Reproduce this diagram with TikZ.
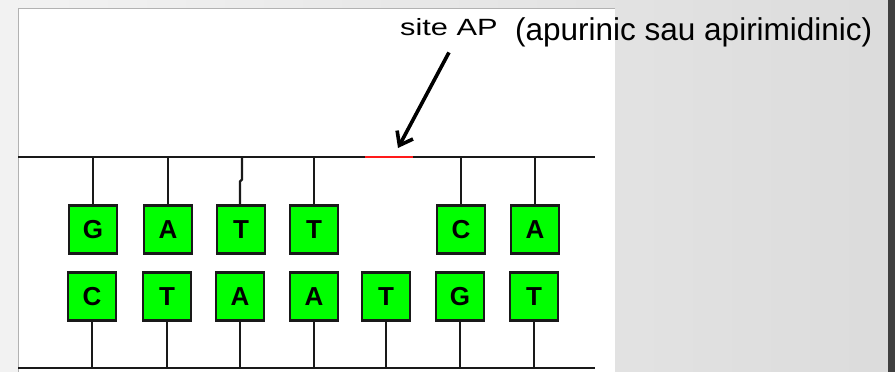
\documentclass[tikz,border=0pt]{standalone}
\usepackage{fontspec}
\setmainfont{Liberation Sans}
\usetikzlibrary{arrows.meta}

\definecolor{basegreen}{HTML}{00FF00}
\definecolor{gapred}{HTML}{FF1A1A}

\begin{document}
\begin{tikzpicture}[x=1pt, y=-1pt,
    base/.style={draw=black!90, line width=2.2pt, fill=basegreen, minimum size=48pt, inner sep=0pt, font=\fontsize{26}{26}\selectfont\bfseries},
    strand/.style={line width=2.6pt, black!90},
    bond/.style={line width=2.3pt, black!90}]
    \useasboundingbox (0,0) rectangle (895,372);

    % Slide background and white panel
    \shade[left color=black!5, right color=black!14] (0,0) rectangle (895,372);
    \fill[white] (18,8) rectangle (615,372);
    \draw[black!30, line width=1pt] (18,372) -- (18,8) -- (615,8);
    \fill[black!75] (888,0) rectangle (895,372);

    % Strand ends
    \coordinate (top west) at (18,157);
    \coordinate (top east) at (595,157);
    \coordinate (gap west) at (365,157);
    \coordinate (gap east) at (413,157);
    \coordinate (bot west) at (18,368);
    \coordinate (bot east) at (595,368);

    % Backbones
    \draw[strand] (top west) -- (gap west);
    \draw[strand, gapred] (gap west) -- (gap east);
    \draw[strand] (gap east) -- (top east);
    \draw[strand] (bot west) -- (bot east);

    % Upper strand bases
    \foreach \name/\x/\b in {t1/93/G, t2/168/A, t4/314/T, t6/461/C, t7/535/A} {
        \node[base] (\name) at (\x,229.5) {\b};
        \draw[bond] (\name.north) -- (\name.north |- top west);
    }
    \node[base] (t3) at (241,229.5) {T};
    \draw[bond] ([xshift=-1pt]t3.north) -- ++(0,-23) -- ++(2,-2) -- ++(0,-23);

    % Lower strand bases
    \foreach \name/\x/\b in {b1/92/C, b2/167/T, b3/240/A, b4/314/A, b5/386/T, b6/460/G, b7/534/T} {
        \node[base] (\name) at (\x,296.5) {\b};
        \draw[bond] (\name.south) -- (\name.south |- bot west);
    }

    % Labels
    \node[anchor=base west, inner sep=0pt, font=\fontsize{23.5}{24}\selectfont] (siteAP) at (400,35) {\scalebox{1.31}[1]{site AP}};
    \node[anchor=base west, inner sep=0pt, font=\fontsize{31.5}{32}\selectfont] (apnote) at (515,40) {(apurinic sau apirimidinic)};
    \coordinate (gap tip) at (398,148);
    \draw[line width=3.6pt, -{Straight Barb[length=12pt, width=18pt]}] ([yshift=-17pt]siteAP.south) -- (gap tip);
\end{tikzpicture}
\end{document}
